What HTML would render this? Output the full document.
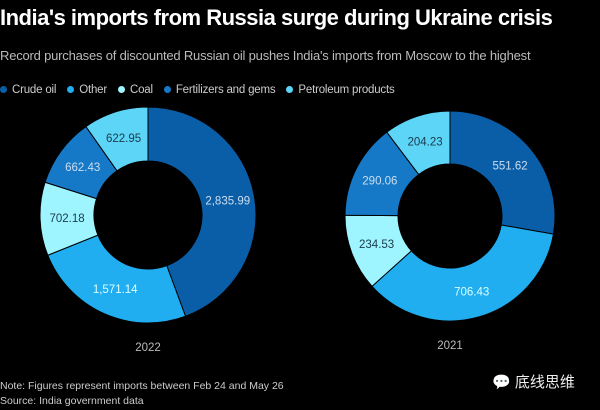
<!DOCTYPE html>
<html><head><meta charset="utf-8"><style>
body{margin:0;background:#000;width:600px;height:410px;overflow:hidden;font-family:"Liberation Sans",sans-serif;color:#fff}
.t{position:absolute;left:0;top:5px;font-size:22px;font-weight:bold;letter-spacing:-0.5px;white-space:nowrap}
.s{position:absolute;left:0;top:48px;font-size:13px;letter-spacing:-0.2px;color:#bbb;white-space:nowrap}
.lg{position:absolute;left:0;top:84px;font-size:11.5px;letter-spacing:-0.2px;color:#ccc;white-space:nowrap}
.lg span{margin-right:11px}.lg i{display:inline-block;width:7px;height:7px;border-radius:50%;margin-right:5px}
.n{position:absolute;left:0;font-size:10.5px;color:#ccc}
</style></head><body>
<div class="t">India's imports from Russia surge during Ukraine crisis</div>
<div class="s">Record purchases of discounted Russian oil pushes India's imports from Moscow to the highest</div>
<div class="lg">
<span><i style="background:#0a5ea8"></i>Crude oil</span><span><i style="background:#20aef0"></i>Other</span><span><i style="background:#9ff5ff"></i>Coal</span><span><i style="background:#1679c8"></i>Fertilizers and gems</span><span><i style="background:#5cd5f7"></i>Petroleum products</span></div>
<svg id="c" width="600" height="410" style="position:absolute;left:0;top:0"></svg>
<div class="n" style="top:380px">Note: Figures represent imports between Feb 24 and May 26</div>
<div class="n" style="top:395px">Source: India government data</div>
<div style="position:absolute;left:492px;top:371px;font-size:15px;font-family:'Liberation Sans','Noto Sans CJK SC',sans-serif;color:#eee">💬 底线思维</div>
<script>
const categories=["Crude oil","Other","Coal","Fertilizers and gems","Petroleum products"];
const values2022=[2835.99,1571.14,702.18,662.43,622.95];
const values2021=[551.62,706.43,234.53,290.06,204.23];
const labels2022=["2,835.99","1,571.14","702.18","662.43","622.95"];
const labels2021=["551.62","706.43","234.53","290.06","204.23"];
const colors=["#0a5ea8","#20aef0","#9ff5ff","#1679c8","#5cd5f7"];
const textColors=["#cde","#dff","#1a3a4a","#cde","#1a3a4a"];
const svg=document.getElementById('c');const NS='http://www.w3.org/2000/svg';
function pt(cx,cy,r,a){return [cx+r*Math.sin(a),cy-r*Math.cos(a)];}
function donut(cx,cy,ro,ri,vals,labs,year,name){
 const tot=vals.reduce((a,b)=>a+b,0);let a0=0;
 vals.forEach((v,i)=>{const a1=a0+v/tot*2*Math.PI;const lg=(a1-a0)>Math.PI?1:0;
  const p1=pt(cx,cy,ro,a0),p2=pt(cx,cy,ro,a1),p3=pt(cx,cy,ri,a1),p4=pt(cx,cy,ri,a0);
  const p=document.createElementNS(NS,'path');
  p.setAttribute('d',`M${p1}A${ro},${ro} 0 ${lg} 1 ${p2}L${p3}A${ri},${ri} 0 ${lg} 0 ${p4}Z`);
  p.setAttribute('fill',colors[i]);p.setAttribute('stroke','#000');p.setAttribute('stroke-width','1');
  
  
  svg.appendChild(p);
  const m=(a0+a1)/2,lp=pt(cx,cy,(ro+ri)/2,m);
  const t=document.createElementNS(NS,'text');t.setAttribute('x',lp[0]);t.setAttribute('y',lp[1]+4);
  t.setAttribute('text-anchor','middle');t.setAttribute('font-size','11.5');t.setAttribute('fill',textColors[i]);
  t.setAttribute('font-family','Liberation Sans, sans-serif');t.textContent=labs[i];
  
  
  svg.appendChild(t);a0=a1;});
 const y=document.createElementNS(NS,'text');y.setAttribute('x',cx);y.setAttribute('y',cy+ro+28);
 y.setAttribute('text-anchor','middle');y.setAttribute('font-size','11.5');y.setAttribute('fill','#bbb');
 y.setAttribute('font-family','Liberation Sans, sans-serif');y.textContent=year;
 
 
 svg.appendChild(y);}
donut(148,215,108,54,values2022,labels2022,"2022","donut-2022");
donut(450,216,105,52,values2021,labels2021,"2021","donut-2021");
</script>
</body></html>
